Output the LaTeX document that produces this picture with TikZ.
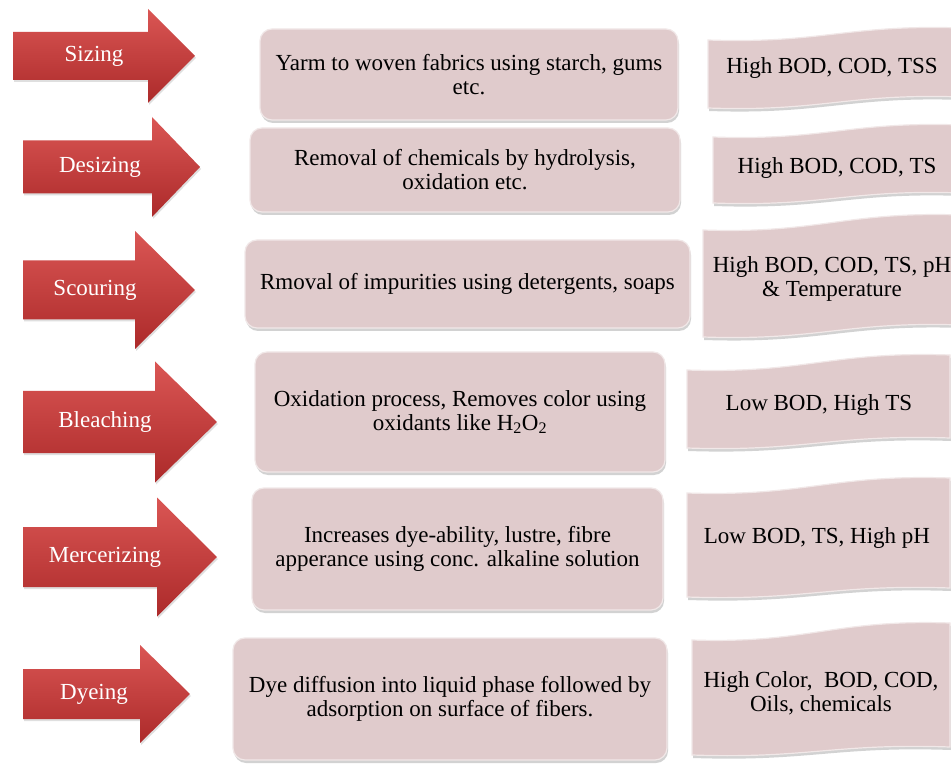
\documentclass[tikz,border=0pt]{standalone}
\usepackage{fontspec}
\setmainfont{Liberation Serif}
\usetikzlibrary{shadows}
\definecolor{boxpink}{RGB}{224,203,204}
\definecolor{arrowtop}{RGB}{218,86,84}
\definecolor{arrowmid}{RGB}{192,54,54}
\definecolor{arrowbot}{RGB}{172,42,42}
\tikzset{
  txt/.style={font=\rmfamily\fontsize{23}{24}\selectfont, inner sep=0pt, align=center},
  arrowfill/.style={top color=arrowtop, middle color=arrowmid, bottom color=arrowbot,
    drop shadow={opacity=0.25, shadow xshift=1pt, shadow yshift=-2pt}},
  arrowtext/.style={txt, text=white},
  procbox/.style={txt, rectangle, rounded corners=12pt, fill=boxpink,
    draw=white!55!boxpink, line width=1.2pt,
    drop shadow={opacity=0.35, shadow xshift=1pt, shadow yshift=-3pt}},
  bannerfill/.style={fill=boxpink, draw=white!55!boxpink, line width=1.2pt,
    drop shadow={opacity=0.35, shadow xshift=1pt, shadow yshift=-3pt}},
  bannertext/.style={txt}
}
% #1 name, #2 left x, #3 head base x, #4 tip x, #5 centre y, #6 half body, #7 half head, #8 label x, #9 text
\newcommand{\procarrow}[9]{%
  \path[arrowfill] (#2,#5-#6) -- (#3,#5-#6) -- (#3,#5-#7) -- (#4,#5) -- (#3,#5+#7)
     -- (#3,#5+#6) -- (#2,#5+#6) -- cycle;
  \node[arrowtext] (#1) at (#8,#5) {#9};}
% #1 left x, #2 right x, #3 top-left y, #4 top-right y, #5 bottom-left y, #6 bottom-right y
\newcommand{\wavebanner}[6]{%
  \path[bannerfill] (#1,#3) .. controls ({0.55*#1+0.45*#2},#3+4) and ({0.45*#1+0.55*#2},#4-4) .. (#2,#4)
     -- (#2,#6) .. controls ({0.45*#1+0.55*#2},#6-4) and ({0.55*#1+0.45*#2},#5+4) .. (#1,#5) -- cycle;}
\begin{document}
\begin{tikzpicture}[x=1pt,y=-1pt]
\clip (0,0) rectangle (951,767);
\fill[white] (0,0) rectangle (951,767);

% arrows
\procarrow{a1}{13}{148}{195}{56}{24}{47}{94}{Sizing}
\procarrow{a2}{23}{152}{200}{167}{26.5}{50}{100}{Desizing}
\procarrow{a3}{23}{135}{195}{290}{29.5}{59}{95}{Scouring}
\procarrow{a4}{23}{155}{217}{422}{31}{60.5}{105}{Bleaching}
\procarrow{a5}{23}{157}{217}{557}{30}{59.5}{105}{Mercerizing}
\procarrow{a6}{23}{140}{190}{694}{25}{49}{94}{Dyeing}

% process boxes
\node[procbox, minimum width=418pt, minimum height=91pt] (b1) at (469,74.5)
  {Yarm to woven fabrics using starch, gums\\etc.};
\node[procbox, minimum width=430pt, minimum height=84pt] (b2) at (465,170)
  {Removal of chemicals by hydrolysis,\\oxidation etc.};
\node[procbox, minimum width=445pt, minimum height=88pt] (b3) at (467.5,284)
  {Rmoval of impurities using detergents, soaps};
\node[procbox, minimum width=410pt, minimum height=120pt] (b4) at (460,412)
  {Oxidation process, Removes color using\\oxidants like H\textsubscript{2}O\textsubscript{2}};
\node[procbox, minimum width=411pt, minimum height=122pt] (b5) at (457.5,549)
  {Increases dye-ability, lustre, fibre\\apperance using conc. alkaline solution};
\node[procbox, minimum width=434pt, minimum height=122pt] (b6) at (450,699)
  {Dye diffusion into liquid phase followed by\\adsorption on surface of fibers.};

% banners
\wavebanner{708}{962}{40}{28}{108}{97}
\node[bannertext] (c1) at (832,68) {High BOD, COD, TSS};
\wavebanner{713}{962}{137}{125}{203}{193}
\node[bannertext] (c2) at (837,168) {High BOD, COD, TS};
\wavebanner{703}{962}{230}{215}{337}{325}
\node[bannertext] (c3) at (832,279) {High BOD, COD, TS, pH\\\& Temperature};
\wavebanner{687}{950}{370}{355}{448}{438}
\node[bannertext] (c4) at (819,405) {Low BOD, High TS};
\wavebanner{687}{950}{493}{478}{597}{588}
\node[bannertext] (c5) at (817,538) {Low BOD, TS, High pH};
\wavebanner{692}{950}{640}{623}{755}{747}
\node[bannertext] (c6) at (821,693) {High Color,\ \ BOD, COD,\\Oils, chemicals};
\end{tikzpicture}
\end{document}
